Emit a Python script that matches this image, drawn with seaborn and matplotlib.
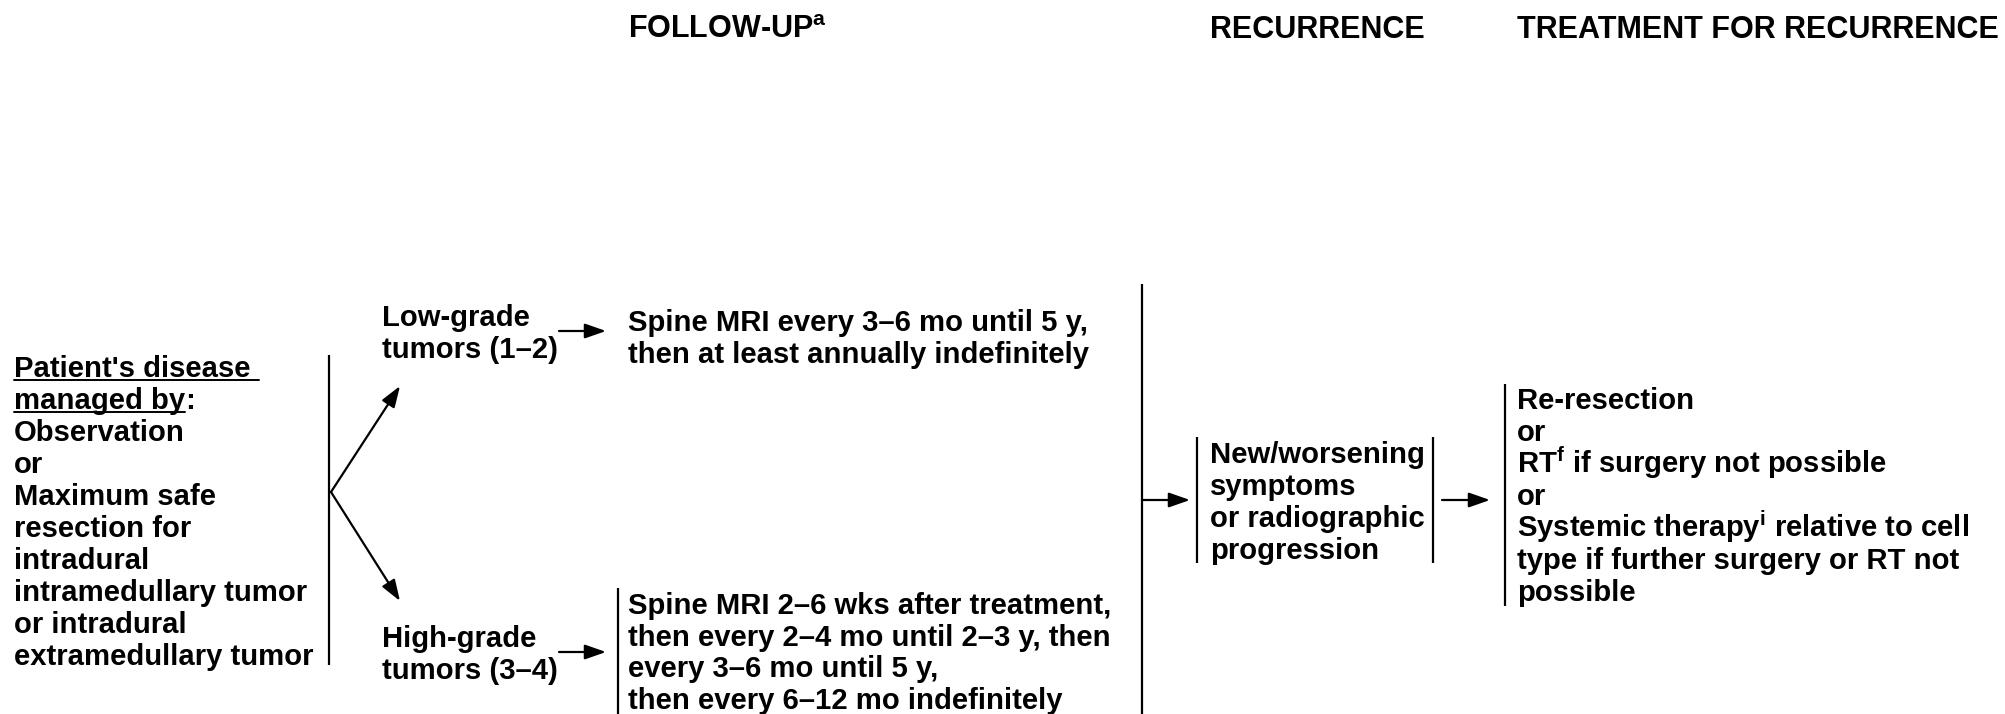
"""Flow diagram: follow-up and recurrence for intradural spinal tumors."""
import matplotlib.pyplot as plt
import seaborn as sns

# ---- text content ----
headers = ["FOLLOW-UP$^{\\mathrm{a}}$", "RECURRENCE", "TREATMENT FOR RECURRENCE"]
managed_lines = ["Observation", "or", "Maximum safe", "resection for", "intradural",
                 "intramedullary tumor", "or intradural", "extramedullary tumor"]
low_grade = ["Low-grade", "tumors (1\u20132)"]
high_grade = ["High-grade", "tumors (3\u20134)"]
low_followup = ["Spine MRI every 3\u20136 mo until 5 y,",
                "then at least annually indefinitely"]
high_followup = ["Spine MRI 2\u20136 wks after treatment,",
                 "then every 2\u20134 mo until 2\u20133 y, then",
                 "every 3\u20136 mo until 5 y,",
                 "then every 6\u201312 mo indefinitely"]
recurrence = ["New/worsening", "symptoms", "or radiographic", "progression"]
treatment = ["Re-resection", "or", "RT$^{\\mathrm{f}}$ if surgery not possible", "or",
             "Systemic therapy$^{\\mathrm{i}}$ relative to cell",
             "type if further surgery or RT not", "possible"]

W, H = 2005, 714
FS = 21.1
FS_HEAD = 22
STEP = 32
LW = 1.6

sns.set_theme(style="white")
plt.rcParams['font.family'] = ['Liberation Sans', 'DejaVu Sans']
plt.rcParams['font.weight'] = 'bold'
plt.rcParams['text.color'] = 'black'
plt.rcParams['mathtext.fontset'] = 'custom'
plt.rcParams['mathtext.rm'] = 'Liberation Sans:bold'

fig = plt.figure(figsize=(W / 100, H / 100), dpi=100)
ax = fig.add_axes([0, 0, 1, 1])
ax.set_xlim(0, W)
ax.set_ylim(H, 0)
ax.axis('off')


def block(x, y0, lines, step=STEP):
    """Write lines of text, one per row, y0 = visual centre of first row."""
    items = []
    for i, s in enumerate(lines):
        items.append(ax.text(x, y0 + i * step + 10, s, fontsize=FS, fontweight='bold',
                             ha='left', va='baseline', color='black'))
    return items


def arrow(x0, y0, x1, y1):
    ax.annotate('', xy=(x1, y1), xytext=(x0, y0),
                arrowprops=dict(arrowstyle='-|>,head_length=0.8,head_width=0.28',
                                mutation_scale=16, lw=LW, color='black',
                                shrinkA=0, shrinkB=0))


def vbar(x, y0, y1):
    ax.plot([x, x], [y0, y1], color='black', lw=LW, solid_capstyle='butt')


# headers
for x, s in zip([628, 1210, 1517], headers):
    ax.text(x, 38, s, fontsize=FS_HEAD, fontweight='bold', ha='left', va='baseline',
            color='black')

# left block with underlined heading
t1 = ax.text(14, 367 + 10, "Patient's disease ", fontsize=FS, fontweight='bold',
             ha='left', va='baseline', color='black')
t2 = ax.text(14, 367 + STEP + 10, "managed by", fontsize=FS, fontweight='bold',
             ha='left', va='baseline', color='black')
fig.canvas.draw()
inv = ax.transData.inverted()
for t in (t1, t2):
    bb = t.get_window_extent()
    (xa, _), (xb, _) = inv.transform([(bb.x0, bb.y0), (bb.x1, bb.y0)])
    yb = t.get_position()[1] + 3
    ax.plot([xa, xb], [yb, yb], color='black', lw=1.4)
bb = t2.get_window_extent()
xc = inv.transform([(bb.x1, bb.y0)])[0][0]
ax.text(xc, 367 + STEP + 10, ":", fontsize=FS, fontweight='bold', ha='left',
        va='baseline', color='black')
block(14, 367 + 2 * STEP, managed_lines)

vbar(329, 355, 665)
arrow(331, 492, 400, 386)
arrow(331, 492, 400, 601)

block(382, 316, low_grade)
block(382, 637, high_grade)
arrow(559, 331, 606, 331)
arrow(559, 652, 606, 652)
block(628, 321, low_followup)
vbar(618, 588, 714)
block(628, 604, high_followup, step=31.7)

# recurrence column
vbar(1142, 284, 714)
arrow(1142, 500, 1190, 500)
vbar(1197, 437, 563)
block(1210, 453, recurrence)
vbar(1433, 437, 563)
arrow(1442, 500, 1490, 500)
vbar(1505, 384, 606)
block(1517, 399, treatment)

fig.savefig('out.png', dpi=100)
